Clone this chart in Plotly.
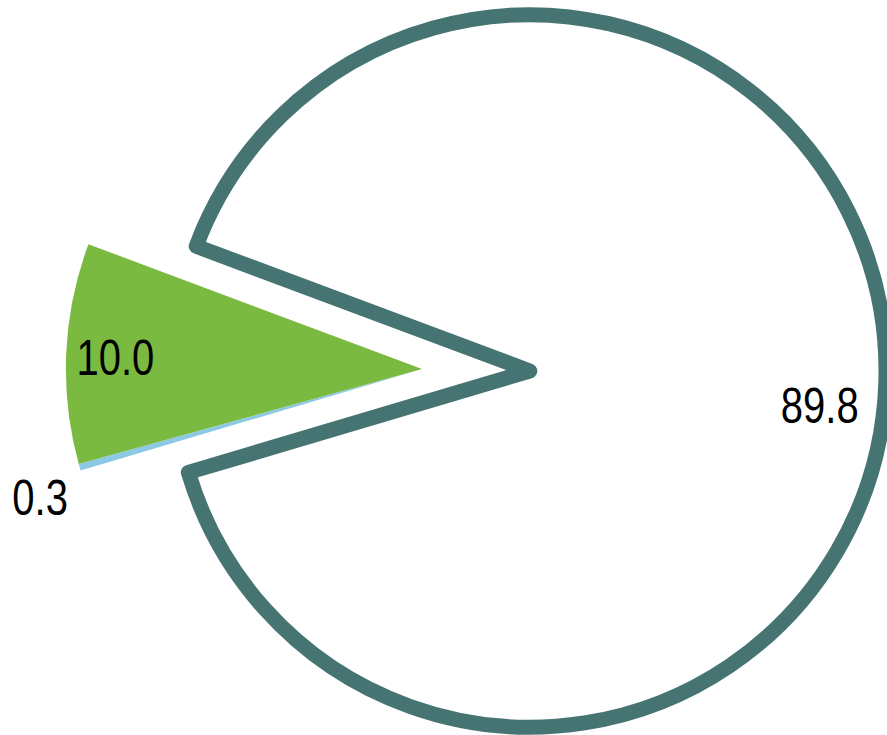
import plotly.graph_objects as go

labels = ["Other", "Small", "Main"]
values = [89.8, 0.3, 10.0]

teal = "#457472"
green = "#7BBA41"
blue = "#8CC9E5"
clear = "rgba(0,0,0,0)"

font = dict(family="Liberation Sans, Arial, sans-serif", size=50, color="black")

W, H = 887, 735
R = 357
MAIN_C = (529, 371)
EXPL_C = (421, 369)
ROT = -69.5


def dom(c, r=R):
    cx, cy = c
    yb = H - cy
    return dict(x=[max(0, (cx - r) / W), min(1, (cx + r) / W)],
                y=[max(0, (yb - r) / H), min(1, (yb + r) / H)])


def pie(colors, widths, lc, textpos, center, rotation=ROT, hole=0, r=R,
        orient="auto"):
    return go.Pie(
        labels=labels, values=values, sort=False, direction="clockwise",
        rotation=rotation, hole=hole,
        marker=dict(colors=colors, line=dict(color=lc, width=widths)),
        texttemplate="%{value:.1f}", textposition=textpos,
        textfont=font, insidetextfont=font, outsidetextfont=font,
        insidetextorientation=orient,
        domain=dom(center, r), showlegend=False, hoverinfo="skip",
    )


fig = go.Figure()
# big slice outline
fig.add_trace(pie(["white", clear, clear], [15, 0, 0], teal,
                  ["none", "none", "none"], MAIN_C))
# exploded slices
fig.add_trace(pie([clear, blue, green], [0, 0, 0], "white",
                  ["none", "none", "none"], EXPL_C))
# label of big slice
fig.add_trace(pie([clear] * 3, [0, 0, 0], clear,
                  ["inside", "none", "none"], MAIN_C, rotation=-64.5, hole=0.64))
# label of green slice
fig.add_trace(pie([clear] * 3, [0, 0, 0], clear,
                  ["none", "none", "inside"], EXPL_C, rotation=-69.9,
                  hole=0.685, r=365))
# label of blue slice
fig.add_trace(pie([clear] * 3, [0, 0, 0], clear,
                  ["none", "outside", "none"], EXPL_C, rotation=-74.2))

fig.update_layout(width=W, height=H, margin=dict(l=0, r=0, t=0, b=0),
                  paper_bgcolor="white", plot_bgcolor="white")

post = """
document.body.style.margin='0';
document.body.style.overflow='hidden';
function fixStyle(){
  document.querySelectorAll('.slice path.surface').forEach(function(p){p.style.strokeLinejoin='round';});
  document.querySelectorAll('text.slicetext').forEach(function(t){
    var tr=t.getAttribute('transform')||'';
    if(tr.indexOf('scale(0.8,1)')<0){
      t.setAttribute('transform', tr.replace(/^(translate\\([^)]*\\))/, '$1 scale(0.8,1)'));
    }
  });
}
fixStyle();
var gd=document.getElementsByClassName('plotly-graph-div')[0];
if(gd&&gd.on){gd.on('plotly_afterplot',fixStyle);}
"""
fig.write_html("out.html", post_script=post, config={"displayModeBar": False})
